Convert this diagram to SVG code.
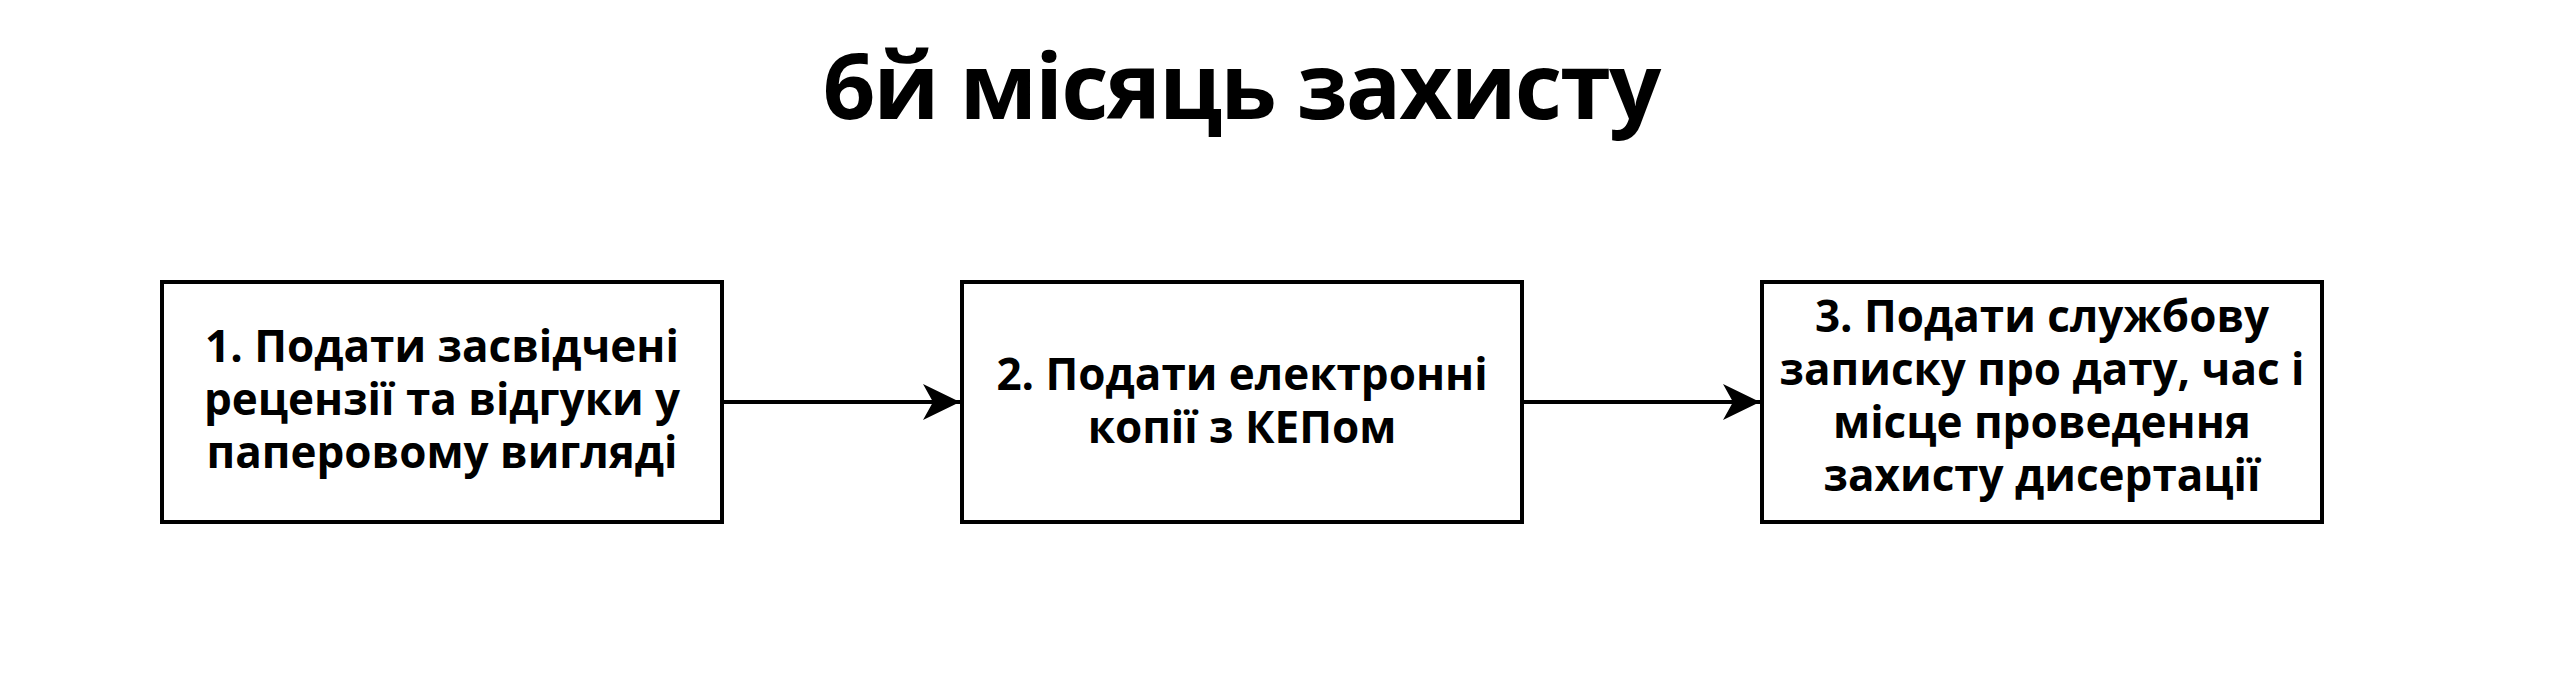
<svg xmlns="http://www.w3.org/2000/svg" width="2560" height="692" viewBox="0 0 2560 692">
<style>
.box{fill:#ffffff;stroke:#000000;stroke-width:4}
.lbl{font-family:"Open Sans","Noto Sans","DejaVu Sans",sans-serif;font-weight:700;font-size:44px;fill:#000000;text-anchor:middle}
.title{font-family:"Open Sans","Noto Sans","DejaVu Sans",sans-serif;font-weight:700;font-size:92px;letter-spacing:-2px;fill:#000000;text-anchor:middle}
.conn{stroke:#000000;stroke-width:4;fill:none}
</style>
<defs>
<marker id="arr" markerUnits="userSpaceOnUse" markerWidth="40" markerHeight="40" viewBox="0 0 40 40" refX="38" refY="20" orient="auto">
<path d="M1,2 L38,20 L1,38 L11,20 Z" fill="#000000"/>
</marker>
</defs>
<rect width="2560" height="692" fill="#ffffff"/>
<g id="title"><text class="title" x="1241" y="119">6й місяць захисту</text></g>
<g id="connectors">
<line class="conn" x1="722" y1="402" x2="960" y2="402" marker-end="url(#arr)"/>
<line class="conn" x1="1522" y1="402" x2="1760" y2="402" marker-end="url(#arr)"/>
</g>
<g id="node1">
<rect class="box" x="162" y="282" width="560" height="240"/>
<text class="lbl" x="442" y="362"><tspan x="442" y="362">1. Подати засвідчені</tspan><tspan x="442" y="415">рецензії та відгуки у</tspan><tspan x="442" y="468">паперовому вигляді</tspan></text>
</g>
<g id="node2">
<rect class="box" x="962" y="282" width="560" height="240"/>
<text class="lbl" x="1242" y="390"><tspan x="1242" y="390">2. Подати електронні</tspan><tspan x="1242" y="443">копії з КЕПом</tspan></text>
</g>
<g id="node3">
<rect class="box" x="1762" y="282" width="560" height="240"/>
<text class="lbl" x="2042" y="332"><tspan x="2042" y="332">3. Подати службову</tspan><tspan x="2042" y="385">записку про дату, час і</tspan><tspan x="2042" y="438">місце проведення</tspan><tspan x="2042" y="491">захисту дисертації</tspan></text>
</g>
</svg>
